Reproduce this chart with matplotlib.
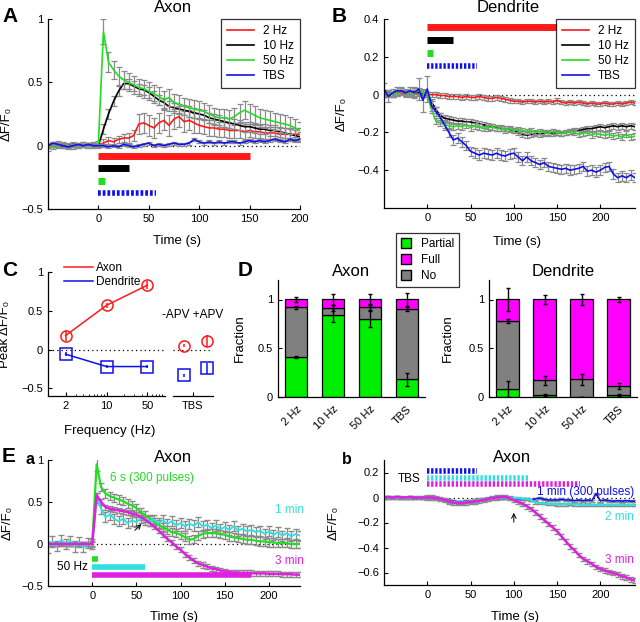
import numpy as np
import matplotlib
matplotlib.use('Agg')
import matplotlib.pyplot as plt
from matplotlib.patches import Patch

plt.rcParams['font.family'] = ['Liberation Sans', 'DejaVu Sans']
plt.rcParams['font.size'] = 8
plt.rcParams['axes.linewidth'] = 0.9
plt.rcParams['xtick.direction'] = 'in'
plt.rcParams['ytick.direction'] = 'in'
plt.rcParams['xtick.major.size'] = 3
plt.rcParams['ytick.major.size'] = 3
plt.rcParams['xtick.minor.size'] = 1.5
plt.rcParams['xtick.labelsize'] = 8
plt.rcParams['ytick.labelsize'] = 8

# ---------------- data ----------------
# panel A (axon, frequency series)
tA = np.arange(-50, 201, 5)
a_red = [-0.02, 0.01, 0.02, 0.00, -0.01, 0.01, 0.00, 0.01, 0.00, 0.01,
         0.00, 0.02, 0.04, 0.03, 0.05, 0.06, 0.06, 0.08, 0.17, 0.18,
         0.16, 0.14, 0.18, 0.20, 0.16, 0.21, 0.23, 0.19, 0.20, 0.18,
         0.16, 0.15, 0.14, 0.14, 0.13, 0.13, 0.12, 0.12, 0.12, 0.11,
         0.12, 0.11, 0.11, 0.10, 0.10, 0.10, 0.09, 0.09, 0.09, 0.09,
         0.09]
a_black = [0.00, 0.01, 0.00, -0.01, 0.00, 0.01, 0.00, 0.00, 0.01, 0.00,
           0.00, 0.13, 0.25, 0.35, 0.43, 0.49, 0.49, 0.47, 0.45, 0.44,
           0.42, 0.39, 0.36, 0.34, 0.31, 0.30, 0.29, 0.28, 0.27, 0.26,
           0.25, 0.24, 0.22, 0.21, 0.20, 0.19, 0.18, 0.17, 0.16, 0.15,
           0.15, 0.14, 0.13, 0.13, 0.12, 0.12, 0.11, 0.10, 0.09, 0.08,
           0.07]
a_green = [0.00, -0.01, 0.00, 0.01, 0.00, -0.01, 0.00, 0.01, 0.00, 0.00,
           0.02, 0.90, 0.66, 0.60, 0.55, 0.52, 0.50, 0.48, 0.46, 0.45,
           0.43, 0.41, 0.39, 0.36, 0.38, 0.34, 0.33, 0.31, 0.30, 0.29,
           0.28, 0.27, 0.25, 0.23, 0.22, 0.22, 0.21, 0.23, 0.26, 0.28,
           0.26, 0.24, 0.22, 0.21, 0.20, 0.19, 0.18, 0.17, 0.16, 0.14,
           0.12]
a_blue = [0.00, 0.02, 0.01, 0.00, -0.01, 0.00, 0.01, 0.00, 0.01, 0.00,
          0.00, 0.00, -0.01, 0.00, -0.01, 0.01, 0.00, -0.01, 0.00, 0.01,
          0.02, 0.00, 0.01, 0.00, 0.01, 0.02, 0.01, 0.01, 0.02, 0.05,
          0.03, 0.02, 0.03, 0.02, 0.03, 0.02, 0.03, 0.03, 0.02, 0.03,
          0.04, 0.03, 0.04, 0.03, 0.04, 0.05, 0.04, 0.03, 0.05, 0.04,
          0.05]
a_red_err = [0.02] * 10 + [0.02, 0.03, 0.03, 0.03, 0.03, 0.03, 0.04, 0.04, 0.08, 0.08] + \
            [0.08] * 10 + [0.06] * 10 + [0.05] * 11
a_black_err = [0.01] * 10 + [0.01] + [0.04] * 40
a_green_err = [0.02] * 10 + [0.02, 0.10, 0.08] + [0.07] * 38
a_blue_err = [0.012] * 51

# panel B (dendrite, frequency series)
tB = np.arange(-50, 241, 5)
b_red = [0.01, 0.00, 0.00, 0.01, 0.01, 0.00, 0.01, 0.00, 0.01, 0.01,
         0.00, 0.00, 0.00, -0.005, -0.005, -0.01, -0.01, -0.01, -0.015, -0.01,
         -0.015, -0.015, -0.01, -0.015, -0.02, -0.02, -0.015, -0.02, -0.025, -0.03,
         -0.035, -0.035, -0.04, -0.035, -0.035, -0.04, -0.035, -0.04, -0.035, -0.04,
         -0.03, -0.04, -0.045, -0.04, -0.045, -0.04, -0.045, -0.05, -0.045, -0.05,
         -0.05, -0.045, -0.05, -0.05, -0.045, -0.05, -0.045, -0.04, -0.045]
b_black = [0.00, 0.01, 0.00, 0.01, 0.02, 0.01, 0.01, 0.02, 0.01, 0.00,
           0.00, -0.04, -0.08, -0.11, -0.125, -0.13, -0.135, -0.14, -0.14, -0.145,
           -0.145, -0.15, -0.155, -0.16, -0.165, -0.17, -0.175, -0.18, -0.18, -0.185,
           -0.19, -0.20, -0.21, -0.215, -0.21, -0.205, -0.21, -0.205, -0.20, -0.205,
           -0.20, -0.205, -0.20, -0.195, -0.19, -0.19, -0.185, -0.18, -0.18, -0.175,
           -0.17, -0.175, -0.17, -0.165, -0.17, -0.165, -0.17, -0.165, -0.17]
b_green = [0.00, 0.01, 0.00, 0.01, 0.02, 0.01, 0.00, 0.01, 0.02, 0.01,
           0.00, -0.08, -0.14, -0.15, -0.16, -0.165, -0.17, -0.165, -0.17, -0.16,
           -0.175, -0.165, -0.17, -0.18, -0.175, -0.17, -0.18, -0.175, -0.19, -0.18,
           -0.19, -0.185, -0.19, -0.195, -0.19, -0.20, -0.195, -0.20, -0.205, -0.195,
           -0.20, -0.205, -0.20, -0.195, -0.20, -0.21, -0.205, -0.20, -0.215, -0.205,
           -0.21, -0.215, -0.21, -0.22, -0.215, -0.225, -0.21, -0.225, -0.22]
b_blue = [0.03, -0.01, 0.01, 0.02, 0.02, 0.01, 0.02, 0.01, 0.03, -0.03,
          0.03, -0.06, -0.09, -0.12, -0.16, -0.20, -0.24, -0.23, -0.25, -0.27,
          -0.30, -0.31, -0.32, -0.31, -0.315, -0.32, -0.31, -0.32, -0.325, -0.315,
          -0.31, -0.33, -0.35, -0.33, -0.35, -0.36, -0.37, -0.36, -0.38, -0.385,
          -0.39, -0.395, -0.39, -0.40, -0.395, -0.39, -0.38, -0.405, -0.40, -0.41,
          -0.40, -0.385, -0.38, -0.42, -0.44, -0.43, -0.44, -0.425, -0.44]
b_red_err = [0.012] * 59
b_black_err = [0.015] * 59
b_green_err = [0.015] * 59
b_blue_err = [0.03, 0.03, 0.02, 0.02, 0.02, 0.02, 0.02, 0.03, 0.06, 0.06] + [0.07] + [0.025] * 48

# panel C (peak amplitude)
freqs = [2, 10, 50]
c_axon = [0.18, 0.57, 0.83]
c_axon_err = [0.07, 0.03, 0.05]
c_dend = [-0.06, -0.22, -0.22]
c_dend_err = [0.03, 0.02, 0.02]
c_tbs_axon = [0.05, 0.11]
c_tbs_axon_err = [0.02, 0.08]
c_tbs_dend = [-0.33, -0.24]
c_tbs_dend_err = [0.02, 0.07]

# panel D (fractions)
d_labels = ['2 Hz', '10 Hz', '50 Hz', 'TBS']
d_ax_partial = [0.41, 0.84, 0.80, 0.18]
d_ax_no = [0.51, 0.07, 0.12, 0.725]
d_ax_full = [0.08, 0.09, 0.08, 0.095]
d_ax_err = [[0.015, 0.07, 0.08, 0.07], [0.015, 0.03, 0.03, 0.02], [0.03, 0.06, 0.06, 0.07]]
d_de_partial = [0.08, 0.02, 0.0, 0.02]
d_de_no = [0.70, 0.15, 0.18, 0.09]
d_de_full = [0.22, 0.83, 0.82, 0.89]
d_de_err = [[0.08, 0.01, 0.0, 0.01], [0.02, 0.05, 0.06, 0.03], [0.12, 0.05, 0.06, 0.03]]

# panel E a (50 Hz, different durations)
tEa = np.arange(-50, 236, 5)
ea_green = [0.00, 0.00, 0.00, 0.00, 0.00, 0.00, 0.00, 0.00, 0.00, 0.00,
            0.00, 0.95, 0.68, 0.60, 0.57, 0.55, 0.53, 0.51, 0.48, 0.46,
            0.43, 0.38, 0.34, 0.30, 0.26, 0.23, 0.20, 0.17, 0.14, 0.13,
            0.11, 0.08, 0.05, 0.06, 0.10, 0.12, 0.13, 0.13, 0.13, 0.12,
            0.11, 0.09, 0.08, 0.07, 0.06, 0.05, 0.05, 0.04, 0.03, 0.03,
            0.02, 0.02, 0.01, 0.01, 0.01, 0.00, 0.00, 0.00]
ea_cyan = [-0.05, 0.03, -0.02, 0.05, 0.00, 0.04, -0.03, 0.02, -0.04, 0.01,
           0.00, 0.55, 0.42, 0.32, 0.35, 0.30, 0.27, 0.30, 0.25, 0.28,
           0.26, 0.31, 0.29, 0.27, 0.29, 0.25, 0.28, 0.24, 0.27, 0.22,
           0.25, 0.21, 0.24, 0.22, 0.26, 0.21, 0.23, 0.19, 0.22, 0.18,
           0.20, 0.17, 0.21, 0.16, 0.18, 0.15, 0.17, 0.14, 0.16, 0.12,
           0.15, 0.11, 0.14, 0.10, 0.13, 0.09, 0.12, 0.10]
ea_magenta = [0.00, 0.00, 0.00, 0.00, 0.00, 0.00, 0.00, 0.00, 0.00, 0.00,
              0.00, 0.58, 0.50, 0.44, 0.42, 0.41, 0.40, 0.39, 0.38, 0.36,
              0.35, 0.32, 0.29, 0.25, 0.21, 0.16, 0.11, 0.06, 0.02, -0.03,
              -0.07, -0.12, -0.16, -0.20, -0.23, -0.25, -0.27, -0.29, -0.30, -0.315,
              -0.325, -0.335, -0.34, -0.34, -0.345, -0.345, -0.345, -0.35, -0.35, -0.35,
              -0.355, -0.355, -0.355, -0.36, -0.36, -0.36, -0.365, -0.365]
ea_green_err = [0.02] * 10 + [0.02, 0.08] + [0.05] * 46
ea_cyan_err = [0.06] * 58
ea_magenta_err = [0.02] * 10 + [0.03] * 48

# panel E b (TBS, different durations)
tEb = np.arange(-50, 241, 5)
eb_magenta = [0.00, 0.005, 0.00, 0.005, 0.00, 0.00, 0.005, 0.00, 0.00, 0.00,
              0.00, 0.00, -0.005, -0.01, -0.02, -0.03, -0.04, -0.045, -0.045, -0.04,
              -0.035, -0.03, -0.025, -0.02, -0.01, -0.005, 0.00, 0.005, 0.005, -0.005,
              -0.02, -0.035, -0.05, -0.07, -0.09, -0.12, -0.15, -0.18, -0.21, -0.24,
              -0.27, -0.31, -0.35, -0.39, -0.42, -0.46, -0.49, -0.51, -0.53, -0.555,
              -0.57, -0.585, -0.595, -0.605, -0.615, -0.63, -0.64, -0.655, -0.665]
eb_cyan = [0.00, 0.00, 0.005, 0.00, 0.00, -0.005, 0.00, 0.00, 0.005, 0.00,
           0.00, 0.00, -0.005, -0.01, -0.02, -0.03, -0.035, -0.04, -0.04, -0.035,
           -0.03, -0.025, -0.02, -0.015, -0.01, -0.005, 0.00, 0.00, 0.00, -0.005,
           -0.005, -0.005, -0.01, -0.01, -0.02, -0.04, -0.045, -0.045, -0.05, -0.05,
           -0.055, -0.055, -0.055, -0.05, -0.055, -0.055, -0.06, -0.055, -0.06, -0.06,
           -0.055, -0.06, -0.06, -0.06, -0.06, -0.055, -0.06, -0.06, -0.06]
eb_blue = [0.00, 0.00, 0.00, 0.005, 0.00, 0.00, 0.00, -0.005, 0.00, 0.00,
           0.00, 0.00, -0.005, -0.01, -0.02, -0.025, -0.03, -0.035, -0.035, -0.03,
           -0.03, -0.025, -0.02, -0.015, -0.01, -0.005, 0.00, 0.00, 0.00, -0.005,
           -0.01, -0.01, -0.015, -0.01, -0.02, -0.01, -0.005, -0.015, -0.02, -0.02,
           -0.02, -0.015, -0.02, -0.02, -0.025, -0.02, -0.025, -0.02, -0.025, 0.03,
           -0.025, -0.02, -0.025, -0.03, -0.025, -0.03, -0.025, -0.03, -0.03]
eb_magenta_err = [0.008] * 10 + [0.018] * 49
eb_cyan_err = [0.01] * 59
eb_blue_err = [0.008] * 59

# ---------------- style ----------------
RED = '#ff1a1a'
GREEN = '#22dd22'
BLUE = '#1010ee'
BLACK = 'k'
CYAN = '#30e0e0'
MAG = '#e020e0'
ERRC = '#8a8a8a'
D_GREEN = '#00ee00'
D_MAG = '#ff00ff'
D_GRAY = '#808080'

W, H = 640, 622
fig = plt.figure(figsize=(6.4, 6.22), dpi=100)


def box(x0, y0, x1, y1):
    return [x0 / W, 1 - y1 / H, (x1 - x0) / W, (y1 - y0) / H]


def fx(x):
    return x / W


def fy(y):
    return 1 - y / H


def clean(ax):
    ax.spines['top'].set_visible(False)
    ax.spines['right'].set_visible(False)


def trace(ax, t, y, e, color, lw=1.2):
    ax.errorbar(t, y, yerr=e, fmt='none', ecolor=ERRC, elinewidth=0.9, capsize=2, capthick=0.9)
    ax.plot(t, y, color=color, lw=lw)


DOT = (0, (1, 2.5))
YLAB = 'ΔF/F₀'

# ---------------- A ----------------
ax = fig.add_axes(box(48, 19, 300, 209))
clean(ax)
ax.plot([0, 200], [0, 0], color='k', lw=0.9, linestyle=DOT)
trace(ax, tA, a_red, a_red_err, RED)
trace(ax, tA, a_black, a_black_err, BLACK)
trace(ax, tA, a_green, a_green_err, GREEN)
trace(ax, tA, a_blue, a_blue_err, BLUE)
ax.plot([0, 150], [-0.08, -0.08], color=RED, lw=5, solid_capstyle='butt')
ax.plot([0, 30], [-0.18, -0.18], color=BLACK, lw=5, solid_capstyle='butt')
ax.plot([0, 7], [-0.28, -0.28], color=GREEN, lw=5, solid_capstyle='butt')
ax.plot([0, 57], [-0.375, -0.375], color=BLUE, lw=4, linestyle=(0, (0.5, 0.35)), dash_capstyle='butt')
ax.set_xlim(-50, 200)
ax.set_ylim(-0.5, 1)
ax.set_xticks([0, 50, 100, 150, 200])
ax.set_yticks([-0.5, 0, 0.5, 1])
ax.set_yticklabels(['−0.5', '0', '0.5', '1'])
ax.set_xlabel('Time (s)', fontsize=9.5)
ax.xaxis.set_label_coords(0.51, -0.135)
ax.set_ylabel(YLAB, fontsize=9.5)
ax.yaxis.set_label_coords(-0.14, 0.45)
leg_h = [plt.Line2D([], [], color=c, lw=1.2) for c in (RED, BLACK, GREEN, BLUE)]
leg = ax.legend(leg_h, ['2 Hz', '10 Hz', '50 Hz', 'TBS'], loc='upper right', bbox_to_anchor=(1.0, 1.0),
                borderaxespad=0, fontsize=8.5, frameon=True, fancybox=False, edgecolor='k',
                handlelength=2.3, labelspacing=0.25, borderpad=0.5)
leg.get_frame().set_linewidth(0.9)
fig.text(fx(173), fy(8), 'Axon', ha='center', va='center', fontsize=12)

# ---------------- B ----------------
ax = fig.add_axes(box(384, 19, 635, 208))
clean(ax)
ax.plot([0, 240], [0, 0], color='k', lw=0.9, linestyle=DOT)
trace(ax, tB, b_red, b_red_err, RED)
trace(ax, tB, b_black, b_black_err, BLACK)
trace(ax, tB, b_green, b_green_err, GREEN)
trace(ax, tB, b_blue, b_blue_err, BLUE)
ax.plot([0, 150], [0.36, 0.36], color=RED, lw=5, solid_capstyle='butt')
ax.plot([0, 30], [0.29, 0.29], color=BLACK, lw=5, solid_capstyle='butt')
ax.plot([0, 7], [0.22, 0.22], color=GREEN, lw=5, solid_capstyle='butt')
ax.plot([0, 57], [0.15, 0.15], color=BLUE, lw=4, linestyle=(0, (0.42, 0.32)), dash_capstyle='butt')
ax.set_xlim(-50, 240)
ax.set_ylim(-0.6, 0.4)
ax.set_xticks([0, 50, 100, 150, 200])
ax.set_yticks([-0.4, -0.2, 0, 0.2, 0.4])
ax.set_yticklabels(['−0.4', '−0.2', '0', '0.2', '0.4'])
ax.set_xlabel('Time (s)', fontsize=9.5)
ax.xaxis.set_label_coords(0.53, -0.15)
ax.set_ylabel(YLAB, fontsize=9.5)
ax.yaxis.set_label_coords(-0.145, 0.5)
leg = ax.legend(leg_h, ['2 Hz', '10 Hz', '50 Hz', 'TBS'], loc='upper right', bbox_to_anchor=(1.0, 1.0),
                borderaxespad=0, fontsize=8.5, frameon=True, fancybox=False, edgecolor='k',
                handlelength=2.3, labelspacing=0.25, borderpad=0.5)
leg.get_frame().set_linewidth(0.9)
fig.text(fx(508), fy(8), 'Dendrite', ha='center', va='center', fontsize=12)

# ---------------- C ----------------
axl = fig.add_axes(box(48, 272, 165, 396))
clean(axl)
axl.set_xscale('log')
axl.plot([1, 100], [0, 0], color='k', lw=0.9, linestyle=DOT)
axl.errorbar(freqs, c_axon, yerr=c_axon_err, color=RED, lw=1.1, marker='o', ms=8, mfc='none',
             mec=RED, mew=1.1, capsize=0, label='Axon')
axl.errorbar(freqs, c_dend, yerr=c_dend_err, color=BLUE, lw=1.1, marker='s', ms=8, mfc='none',
             mec=BLUE, mew=1.1, capsize=0, label='Dendrite')
axl.set_xlim(1, 100)
axl.set_ylim(-0.6, 1.0)
axl.set_xticks(freqs)
axl.set_xticklabels(['2', '10', '50'])
axl.set_yticks([-0.5, 0, 0.5, 1])
axl.set_yticklabels(['−0.5', '0', '0.5', '1'])
axl.set_xlabel('Frequency (Hz)', fontsize=9.5)
axl.xaxis.set_label_coords(0.53, -0.23)
axl.set_ylabel('Peak ' + YLAB, fontsize=9.5)
axl.yaxis.set_label_coords(-0.32, 0.5)
axl.legend([plt.Line2D([], [], color=RED, lw=1.1), plt.Line2D([], [], color=BLUE, lw=1.1)],
           ['Axon', 'Dendrite'], loc='upper left', bbox_to_anchor=(0.1, 1.12), frameon=False,
           fontsize=8.5, handlelength=2.4, borderaxespad=0, labelspacing=0.2, handletextpad=0.3)

axr = fig.add_axes(box(173, 272, 213, 396))
for s in ('top', 'right', 'left'):
    axr.spines[s].set_visible(False)
axr.plot([-0.45, 1.25], [0, 0], color='k', lw=0.9, linestyle=DOT)
apv_x = [0, 1]
axr.errorbar(apv_x, c_tbs_axon, yerr=c_tbs_axon_err, fmt='o', color=RED, ms=8, mfc='none',
             mec=RED, mew=1.1, capsize=0, lw=1.1)
axr.errorbar(apv_x, c_tbs_dend, yerr=c_tbs_dend_err, fmt='s', color=BLUE, ms=8, mfc='none',
             mec=BLUE, mew=1.1, capsize=0, lw=1.1)
axr.set_xlim(-0.45, 1.25)
axr.set_ylim(-0.6, 1.0)
axr.set_yticks([])
axr.set_xticks([0.4])
axr.set_xticklabels(['TBS'])
axr.text(0.4, 0.45, '-APV +APV', ha='center', va='center', fontsize=8.5)

# ---------------- D ----------------
pos = np.arange(1, 5)


def frac_panel(ax, partial, no, full, err, title):
    clean(ax)
    partial = np.array(partial)
    no = np.array(no)
    full = np.array(full)
    kw = dict(width=0.6, edgecolor='k', linewidth=0.9)
    ax.bar(pos, partial, color=D_GREEN, **kw)
    ax.bar(pos, no, bottom=partial, color=D_GRAY, **kw)
    ax.bar(pos, full, bottom=partial + no, color=D_MAG, **kw)
    tops = [partial, partial + no, partial + no + full]
    for lvl, e in zip(tops, err):
        ax.errorbar(pos, lvl, yerr=e, fmt='none', ecolor='k', elinewidth=1.0, capsize=1.5, capthick=1.0)
    ax.set_xlim(0.5, 4.5)
    ax.set_ylim(0, 1.2)
    ax.set_yticks([0, 0.5, 1])
    ax.set_yticklabels(['0', '0.5', '1'])
    ax.set_xticks(pos)
    ax.set_xticklabels(d_labels, rotation=45, ha='right', rotation_mode='anchor')
    ax.tick_params(axis='x', length=0, pad=5)
    ax.set_ylabel('Fraction', fontsize=9.5)
    ax.text(0.5, 1.07, title, transform=ax.transAxes, ha='center', va='center', fontsize=12)


ax = fig.add_axes(box(278, 280, 425, 397))
frac_panel(ax, d_ax_partial, d_ax_no, d_ax_full, d_ax_err, 'Axon')
ax.yaxis.set_label_coords(-0.22, 0.5)
ax = fig.add_axes(box(489, 280, 637, 397))
frac_panel(ax, d_de_partial, d_de_no, d_de_full, d_de_err, 'Dendrite')
ax.yaxis.set_label_coords(-0.24, 0.5)
d_handles = [Patch(facecolor=D_GREEN, edgecolor='k'), Patch(facecolor=D_MAG, edgecolor='k'),
             Patch(facecolor=D_GRAY, edgecolor='k')]
leg = fig.legend(d_handles, ['Partial', 'Full', 'No'], loc='upper left', bbox_to_anchor=(fx(396), fy(233)),
                 frameon=True, fancybox=False, edgecolor='k', fontsize=8.5, handlelength=0.9,
                 handleheight=0.9, labelspacing=0.35, borderpad=0.4, borderaxespad=0)
leg.get_frame().set_linewidth(0.9)

# ---------------- E a ----------------
ax = fig.add_axes(box(48, 460, 300, 586))
clean(ax)
ax.plot([0, 235], [0, 0], color='k', lw=0.9, linestyle=DOT)
ax.errorbar(tEa, ea_green, yerr=ea_green_err, fmt='none', ecolor=ERRC, elinewidth=0.9, capsize=2)
ax.errorbar(tEa, ea_cyan, yerr=ea_cyan_err, fmt='none', ecolor=ERRC, elinewidth=0.9, capsize=2)
ax.errorbar(tEa, ea_magenta, yerr=ea_magenta_err, fmt='none', ecolor=ERRC, elinewidth=0.9, capsize=2)
ax.plot(tEa, ea_green, color=GREEN, lw=1.6)
ax.plot(tEa, ea_cyan, color=CYAN, lw=1.4)
ax.plot(tEa, ea_magenta, color=MAG, lw=1.8)
ax.plot([0, 6], [-0.175, -0.175], color=GREEN, lw=4, solid_capstyle='butt')
ax.plot([0, 60], [-0.27, -0.27], color=CYAN, lw=4, solid_capstyle='butt')
ax.plot([0, 180], [-0.37, -0.37], color=MAG, lw=4, solid_capstyle='butt')
ax.text(-5, -0.27, '50 Hz', ha='right', va='center', fontsize=8.5)
ax.text(20, 0.79, '6 s (300 pulses)', color=GREEN, ha='left', va='center', fontsize=8.5)
ax.text(239, 0.41, '1 min', color=CYAN, ha='right', va='center', fontsize=8.5, clip_on=False)
ax.text(239, -0.2, '3 min', color=MAG, ha='right', va='center', fontsize=8.5, clip_on=False)
ax.annotate('', xy=(58, 0.26), xytext=(46, 0.14), arrowprops=dict(arrowstyle='->', lw=0.7, color='k'))
ax.set_xlim(-50, 235)
ax.set_ylim(-0.5, 1)
ax.set_xticks([0, 50, 100, 150, 200])
ax.set_yticks([-0.5, 0, 0.5, 1])
ax.set_yticklabels(['−0.5', '0', '0.5', '1'])
ax.set_xlabel('Time (s)', fontsize=9.5)
ax.xaxis.set_label_coords(0.5, -0.2)
ax.set_ylabel(YLAB, fontsize=9.5)
ax.yaxis.set_label_coords(-0.135, 0.5)
fig.text(fx(173), fy(458), 'Axon', ha='center', va='center', fontsize=12)

# ---------------- E b ----------------
ax = fig.add_axes(box(384, 460, 635, 585))
clean(ax)
ax.plot([0, 240], [0, 0], color='k', lw=0.9, linestyle=DOT)
ax.errorbar(tEb, eb_blue, yerr=eb_blue_err, fmt='none', ecolor=ERRC, elinewidth=0.9, capsize=2)
ax.errorbar(tEb, eb_cyan, yerr=eb_cyan_err, fmt='none', ecolor=ERRC, elinewidth=0.9, capsize=2)
ax.errorbar(tEb, eb_magenta, yerr=eb_magenta_err, fmt='none', ecolor=ERRC, elinewidth=0.9, capsize=2)
ax.plot(tEb, eb_blue, color=BLUE, lw=1.1)
ax.plot(tEb, eb_cyan, color=CYAN, lw=1.6)
ax.plot(tEb, eb_magenta, color=MAG, lw=1.8)
ax.plot([0, 57], [0.21, 0.21], color=BLUE, lw=4, linestyle=(0, (0.42, 0.32)), dash_capstyle='butt')
ax.plot([0, 117], [0.16, 0.16], color=CYAN, lw=4, linestyle=(0, (0.42, 0.32)), dash_capstyle='butt')
ax.plot([0, 177], [0.11, 0.11], color=MAG, lw=4, linestyle=(0, (0.42, 0.32)), dash_capstyle='butt')
ax.text(-21, 0.15, 'TBS', ha='center', va='center', fontsize=8.5)
ax.text(239, 0.048, '1 min (300 pulses)', color=BLUE, ha='right', va='center', fontsize=8.5, clip_on=False)
ax.text(239, -0.16, '2 min', color=CYAN, ha='right', va='center', fontsize=8.5, clip_on=False)
ax.text(239, -0.5, '3 min', color=MAG, ha='right', va='center', fontsize=8.5, clip_on=False)
ax.annotate('', xy=(100, -0.1), xytext=(100, -0.22), arrowprops=dict(arrowstyle='->', lw=0.7, color='k'))
ax.set_xlim(-50, 240)
ax.set_ylim(-0.7, 0.3)
ax.set_xticks([0, 50, 100, 150, 200])
ax.set_yticks([-0.6, -0.4, -0.2, 0, 0.2])
ax.set_yticklabels(['−0.6', '−0.4', '−0.2', '0', '0.2'])
ax.set_xlabel('Time (s)', fontsize=9.5)
ax.xaxis.set_label_coords(0.52, -0.21)
ax.set_ylabel(YLAB, fontsize=9.5)
ax.yaxis.set_label_coords(-0.175, 0.5)
fig.text(fx(512), fy(458), 'Axon', ha='center', va='center', fontsize=12)

# panel letters
for lab, x, y, s in [('A', 2, 17, 15), ('B', 332, 17, 15), ('C', 2, 270, 15), ('D', 238, 270, 15),
                     ('E', 2, 457, 15), ('a', 26, 460, 11.5), ('b', 342, 460, 11.5)]:
    fig.text(fx(x), fy(y), lab, ha='left', va='center', fontsize=s, fontweight='bold')

fig.savefig('out.png', dpi=100)
